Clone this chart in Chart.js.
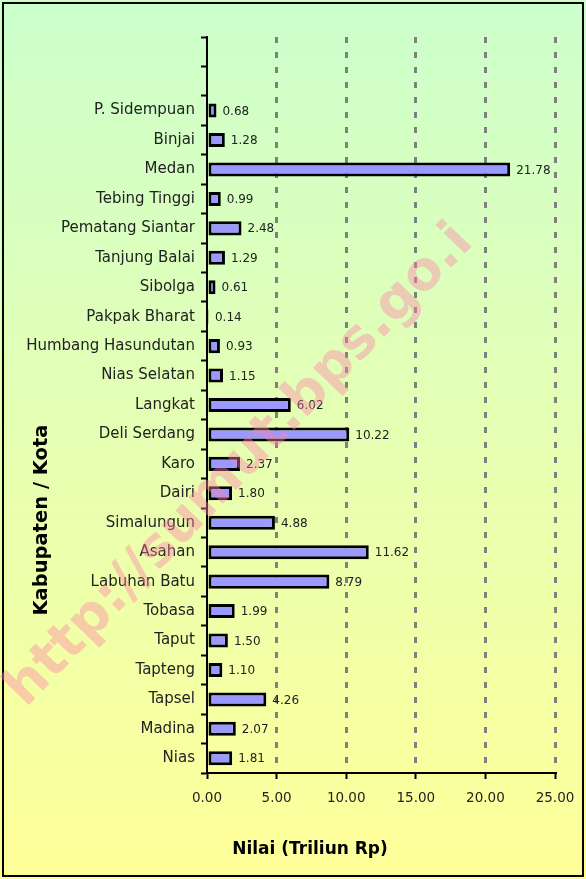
<!DOCTYPE html>
<html>
<head>
<meta charset="utf-8">
<script src="https://cdn.jsdelivr.net/npm/chart.js@4/dist/chart.umd.min.js"></script>
<style>
  html, body { margin: 0; padding: 0; background: #fff; }
  #wrap { width: 586px; height: 879px; }
</style>
</head>
<body>
<div id="wrap"><canvas id="c" width="586" height="879"></canvas></div>
<script>
// Kabupaten / Kota, dari atas ke bawah (dua slot kosong di atas seperti aslinya)
const kabupaten = ['', ' ', 'P. Sidempuan', 'Binjai', 'Medan', 'Tebing Tinggi', 'Pematang Siantar',
  'Tanjung Balai', 'Sibolga', 'Pakpak Bharat', 'Humbang Hasundutan', 'Nias Selatan', 'Langkat',
  'Deli Serdang', 'Karo', 'Dairi', 'Simalungun', 'Asahan', 'Labuhan Batu', 'Tobasa', 'Taput',
  'Tapteng', 'Tapsel', 'Madina', 'Nias'];
const nilai = [null, null, 0.68, 1.28, 21.78, 0.99, 2.48, 1.29, 0.61, 0.14, 0.93, 1.15, 6.02,
  10.22, 2.37, 1.80, 4.88, 11.62, 8.79, 1.99, 1.50, 1.10, 4.26, 2.07, 1.81];
const xTicks = [0, 5, 10, 15, 20, 25];

const FONT = "'DejaVu Sans', sans-serif";

// latar gradasi + bingkai hitam
const latar = {
  id: 'latar',
  beforeDraw(chart) {
    const { ctx, width, height } = chart;
    const g = ctx.createLinearGradient(0, 0, 0, height);
    g.addColorStop(0, '#ccffcc');
    g.addColorStop(1, '#ffff99');
    ctx.save();
    ctx.fillStyle = g;
    ctx.fillRect(0, 0, width, height);
    ctx.strokeStyle = '#000';
    ctx.lineWidth = 2;
    ctx.strokeRect(3, 3, width - 6, height - 6);
    ctx.restore();
  },
};

// label nilai di ujung batang
const labelNilai = {
  id: 'labelNilai',
  afterDatasetsDraw(chart) {
    const { ctx } = chart;
    const meta = chart.getDatasetMeta(0);
    ctx.save();
    ctx.font = `12px ${FONT}`;
    ctx.fillStyle = '#222';
    ctx.textAlign = 'left';
    ctx.textBaseline = 'middle';
    meta.data.forEach((bar, i) => {
      if (nilai[i] == null) return;
      ctx.fillText(nilai[i].toFixed(2), bar.x + 6, bar.y + 1);
    });
    ctx.restore();
  },
};

// judul sumbu + watermark
const judul = {
  id: 'judul',
  afterDraw(chart) {
    const { ctx } = chart;
    ctx.save();
    ctx.fillStyle = '#000';
    ctx.font = `bold 17px ${FONT}`;
    ctx.textAlign = 'center';
    ctx.textBaseline = 'middle';
    ctx.fillText('Nilai (Triliun Rp)', 310, 850);
    ctx.translate(42, 520);
    ctx.rotate(-Math.PI / 2);
    ctx.font = `bold 19.5px ${FONT}`;
    ctx.fillText('Kabupaten / Kota', 0, 0);
    ctx.restore();

    ctx.save();
    ctx.translate(240, 466);
    ctx.rotate(-46 * Math.PI / 180);
    ctx.font = `bold 54px ${FONT}`;
    ctx.fillStyle = 'rgba(255, 130, 170, 0.42)';
    ctx.textAlign = 'center';
    ctx.textBaseline = 'middle';
    ctx.fillText('http://sumut.bps.go.i', 0, 0);
    ctx.restore();
  },
};

new Chart(document.getElementById('c').getContext('2d'), {
  type: 'bar',
  data: {
    labels: kabupaten,
    datasets: [{
      data: nilai,
      backgroundColor: '#9999ff',
      borderColor: '#000',
      borderWidth: 3,
      borderSkipped: false,
      categoryPercentage: 0.9,
      barPercentage: 0.53,
    }],
  },
  options: {
    indexAxis: 'y',
    responsive: false,
    animation: false,
    layout: { padding: { top: 37, right: 31, left: 0, bottom: 0 } },
    plugins: { legend: { display: false }, tooltip: { enabled: false } },
    scales: {
      y: {
        afterFit: (s) => { s.width = 207; },
        grid: { drawOnChartArea: false, drawTicks: true, tickLength: 6, tickColor: '#000', tickWidth: 2, offset: true },
        border: { color: '#000', width: 2 },
        ticks: { color: '#222', font: { family: FONT, size: 15 }, padding: 6, autoSkip: false },
      },
      x: {
        min: 0, max: 25,
        afterFit: (s) => { s.height = 106; },
        afterBuildTicks: (s) => { s.ticks = xTicks.map(v => ({ value: v })); },
        grid: {
          color: (c) => (c.tick && c.tick.value === 0 ? 'rgba(0,0,0,0)' : '#808080'),
          lineWidth: 3,
          tickColor: '#000', tickWidth: 2, tickLength: 6,
        },
        border: { color: '#000', width: 2, dash: [6, 9] },
        ticks: { color: '#222', font: { family: FONT, size: 13.5 }, padding: 11, callback: (v) => Number(v).toFixed(2) },
      },
    },
  },
  plugins: [latar, labelNilai, judul],
});
</script>
</body>
</html>
